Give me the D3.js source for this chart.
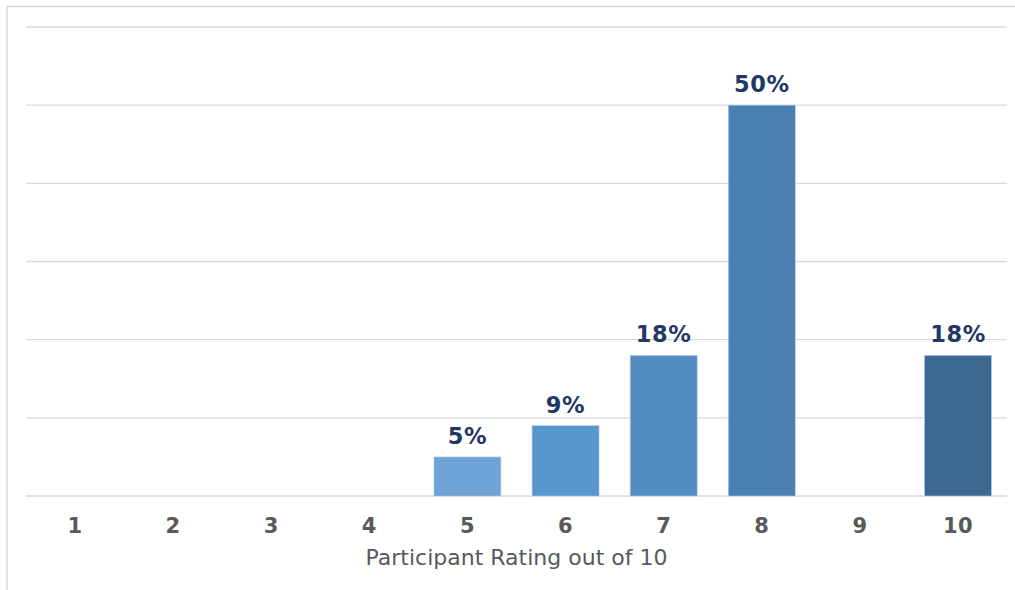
<!DOCTYPE html>
<html><head><meta charset="utf-8">
<script src="https://cdn.jsdelivr.net/npm/d3@7"></script>
<style>
html,body{margin:0;padding:0;background:#fff;}
svg{display:block;}
</style></head>
<body>
<svg id="chart" width="1015" height="590"></svg>
<script>
const categories = ["1","2","3","4","5","6","7","8","9","10"];
const values = [0,0,0,0,5,9,18,50,0,18];
const barColors = ["#6fa2d6","#6fa2d6","#6fa2d6","#6fa2d6","#6fa2d6","#5897cd","#528cc1","#4a7fb1","#4a7fb1","#3d6891"];
const yTicks = [0,10,20,30,40,50,60];
const axisTitle = "Participant Rating out of 10";

const svg = d3.select("#chart");
const W = 1015, H = 590;
const m = {left:26, right:8, top:27, bottom:94};

// outer chart border
svg.append("rect").attr("x",7).attr("y",6.5).attr("width",W+10).attr("height",H+10)
  .attr("fill","#fff").attr("stroke","#d9d9d9").attr("stroke-width",1.5);

const x = d3.scaleBand().domain(categories).range([m.left, W-m.right]).paddingInner(0.317).paddingOuter(0.158);
const y = d3.scaleLinear().domain([0,60]).range([H-m.bottom, m.top]);

// gridlines
svg.append("g").selectAll("line").data(yTicks).join("line")
  .attr("x1", m.left).attr("x2", W-m.right)
  .attr("y1", d=>y(d)).attr("y2", d=>y(d))
  .attr("stroke","#d9d9d9").attr("stroke-width",1.3);

const data = categories.map((c,i)=>({c, v:values[i], col:barColors[i]}));

svg.append("g").selectAll("rect").data(data.filter(d=>d.v>0)).join("rect")
  .attr("x", d=>x(d.c)).attr("width", x.bandwidth())
  .attr("y", d=>y(d.v)).attr("height", d=>y(0)-y(d.v))
  .attr("fill", d=>d.col).attr("stroke","#bcd0e6").attr("stroke-width",0.6);

svg.append("g").selectAll("text").data(data.filter(d=>d.v>0)).join("text")
  .attr("x", d=>x(d.c)+x.bandwidth()/2).attr("y", d=>y(d.v)-13)
  .attr("text-anchor","middle")
  .attr("font-family","DejaVu Sans, Verdana, sans-serif").attr("font-weight","bold")
  .attr("font-size",22.5).attr("letter-spacing","0.6px").attr("fill","#1f3864")
  .text(d=>d.v+"%");

// x axis
const xAxis = svg.append("g").attr("transform",`translate(0,${y(0)})`)
  .call(d3.axisBottom(x).tickSize(0).tickPadding(0));
xAxis.select(".domain").remove();
xAxis.selectAll("text")
  .attr("dy",null).attr("y",37)
  .attr("font-family","DejaVu Sans, Verdana, sans-serif").attr("font-weight","bold")
  .attr("font-size",21).attr("letter-spacing","0.4px").attr("fill","#595959");

svg.append("text").attr("x",(m.left+W-m.right)/2).attr("y",565)
  .attr("text-anchor","middle")
  .attr("font-family","DejaVu Sans, Verdana, sans-serif")
  .attr("font-size",22).attr("fill","#595959")
  .text(axisTitle);
</script>
</body></html>
